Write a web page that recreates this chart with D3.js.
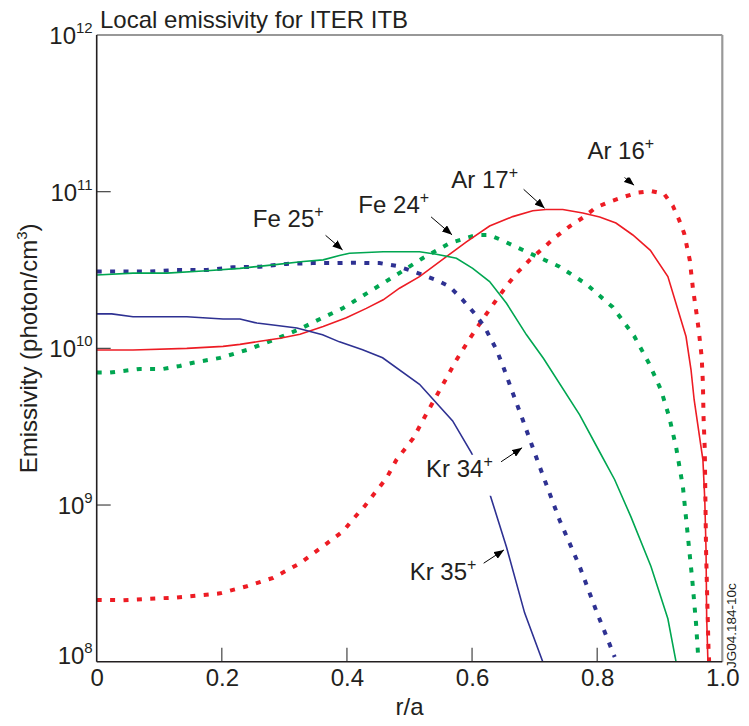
<!DOCTYPE html>
<html>
<head>
<meta charset="utf-8">
<script src="https://cdn.jsdelivr.net/npm/d3@7"></script>
<style>
  body { margin: 0; background: #fff; }
  svg { display: block; font-family: "Liberation Sans", Arial, sans-serif; }
  .label { font-size: 24px; fill: #231f20; }
</style>
</head>
<body>
<svg width="749" height="726"></svg>
<script>
// r/a, emissivity (photon/cm3)
const kr35 = [[0,1.66e10],[0.024,1.66e10],[0.058,1.59e10],[0.144,1.59e10],[0.202,1.54e10],[0.229,1.54e10],[0.256,1.45e10],[0.282,1.41e10],[0.320,1.35e10],[0.361,1.22e10],[0.388,1.10e10],[0.425,9.8e9],[0.457,8.7e9],[0.516,5.9e9],[0.569,3.44e9],[0.599,2.15e9],[0.628,1.19e9],[0.655,5.4e8],[0.684,2.05e8],[0.713,1.0e8]]
const kr34 = [[0,3.09e10],[0.042,3.09e10],[0.085,3.09e10],[0.128,3.16e10],[0.176,3.16e10],[0.218,3.29e10],[0.261,3.32e10],[0.303,3.46e10],[0.345,3.5e10],[0.383,3.5e10],[0.410,3.52e10],[0.452,3.5e10],[0.479,3.36e10],[0.500,3.16e10],[0.521,2.94e10],[0.543,2.73e10],[0.564,2.48e10],[0.585,2.04e10],[0.604,1.67e10],[0.620,1.37e10],[0.639,9.8e9],[0.649,7.8e9],[0.665,5.2e9],[0.681,3.5e9],[0.708,1.76e9],[0.740,8.0e8],[0.772,4.05e8],[0.798,2.14e8],[0.828,1.07e8]]
const fe25 = [[0,2.94e10],[0.058,3.02e10],[0.112,3.02e10],[0.176,3.13e10],[0.229,3.24e10],[0.282,3.41e10],[0.330,3.58e10],[0.362,3.67e10],[0.388,3.91e10],[0.404,4.05e10],[0.458,4.14e10],[0.516,4.14e10],[0.543,3.99e10],[0.575,3.76e10],[0.601,3.24e10],[0.628,2.67e10],[0.655,1.94e10],[0.687,1.22e10],[0.714,8.65e9],[0.772,3.76e9],[0.804,2.18e9],[0.828,1.45e9],[0.854,8.4e8],[0.886,4.05e8],[0.913,1.88e8],[0.926,1.0e8]]
const fe24 = [[0,7.0e9],[0.021,7.0e9],[0.069,7.39e9],[0.106,7.39e9],[0.133,7.72e9],[0.154,8.1e9],[0.197,8.69e9],[0.240,9.77e9],[0.282,1.13e10],[0.325,1.33e10],[0.357,1.54e10],[0.394,1.81e10],[0.436,2.30e10],[0.479,2.94e10],[0.521,3.76e10],[0.564,4.69e10],[0.607,5.29e10],[0.628,5.29e10],[0.649,4.87e10],[0.692,4.05e10],[0.740,3.32e10],[0.782,2.58e10],[0.825,1.83e10],[0.859,1.20e10],[0.883,8.0e9],[0.902,5.43e9],[0.915,3.66e9],[0.926,2.36e9],[0.937,1.31e9],[0.945,6.3e8],[0.952,3.33e8],[0.958,1.76e8],[0.962,1.0e8]]
const ar17 = [[0,9.77e9],[0.058,9.77e9],[0.144,1.0e10],[0.202,1.03e10],[0.229,1.06e10],[0.261,1.11e10],[0.293,1.16e10],[0.325,1.23e10],[0.362,1.38e10],[0.399,1.57e10],[0.431,1.80e10],[0.458,2.04e10],[0.484,2.42e10],[0.516,2.87e10],[0.559,3.85e10],[0.591,4.78e10],[0.628,6.04e10],[0.665,6.93e10],[0.697,7.56e10],[0.718,7.7e10],[0.745,7.7e10],[0.777,7.31e10],[0.804,6.9e10],[0.830,6.31e10],[0.857,5.29e10],[0.885,4.22e10],[0.913,2.87e10],[0.942,1.19e10],[0.950,7.3e9],[0.955,4.7e9],[0.969,1.94e9],[0.972,1.08e9],[0.974,5.2e8],[0.975,1.94e8],[0.977,1.0e8]]
const ar16 = [[0,2.48e8],[0.042,2.47e8],[0.085,2.52e8],[0.128,2.57e8],[0.197,2.73e8],[0.240,3.03e8],[0.282,3.43e8],[0.325,4.25e8],[0.367,5.65e8],[0.394,6.8e8],[0.410,8.15e8],[0.428,9.8e8],[0.447,1.23e9],[0.463,1.48e9],[0.479,1.94e9],[0.506,2.67e9],[0.529,3.95e9],[0.553,5.84e9],[0.575,8.43e9],[0.596,1.15e10],[0.623,1.66e10],[0.639,2.04e10],[0.655,2.5e10],[0.671,3.01e10],[0.692,3.66e10],[0.713,4.34e10],[0.734,5.16e10],[0.756,6.01e10],[0.777,6.82e10],[0.798,7.93e10],[0.821,8.66e10],[0.844,9.31e10],[0.865,9.86e10],[0.886,1.01e11],[0.907,9.67e10],[0.921,8.11e10],[0.931,6.6e10],[0.939,5.43e10],[0.948,3.66e10],[0.953,2.42e10],[0.958,1.76e10],[0.962,1.34e10],[0.967,8.85e9],[0.969,6.0e9],[0.970,3.66e9],[0.972,2.25e9],[0.973,1.08e9],[0.974,5.2e8],[0.976,2.48e8],[0.978,1.19e8],[0.979,1.0e8]]

const xTicks = [0, 0.2, 0.4, 0.6, 0.8, 1.0],
      yExponents = [8, 9, 10, 11, 12]

// label text, superscript, arrow tip on the curve (r, value)
const notes = [
  {text: "Fe 25", sup: "+", at: [0.393, 4.25e10]},
  {text: "Fe 24", sup: "+", at: [0.568, 5.3e10]},
  {text: "Ar 17", sup: "+", at: [0.716, 7.83e10]},
  {text: "Ar 16", sup: "+", at: [0.859, 1.10e11]},
  {text: "Kr 34", sup: "+", at: [0.680, 2.32e9]},
  {text: "Kr 35", sup: "+", at: [0.651, 5.17e8]}
]

const svg = d3.select("svg"),
      margin = {top: 35, right: 26.7, bottom: 64.3, left: 96.7},
      width = +svg.attr("width") - margin.left - margin.right,
      height = +svg.attr("height") - margin.top - margin.bottom,
      g = svg.append("g").attr("transform", "translate(" + margin.left + "," + margin.top + ")")

const x = d3.scaleLinear().domain([0, 1]).range([0, width]),
      y = d3.scaleLog().domain([1e8, 1e12]).range([height, 0])

const red = "#ed1c24", green = "#00a651", blue = "#2e3192"

const series = [
  {id: "ar16", values: ar16, color: red, dotted: true},
  {id: "fe24", values: fe24, color: green, dotted: true},
  {id: "kr34", values: kr34, color: blue, dotted: true},
  {id: "ar17", values: ar17, color: red, dotted: false},
  {id: "fe25", values: fe25, color: green, dotted: false},
  {id: "kr35", values: kr35, color: blue, dotted: false}
]

svg.append("defs").append("clipPath").attr("id", "clip")
  .append("rect").attr("width", width).attr("height", height)

const marker = svg.select("defs").append("marker")
  .attr("id", "arrow")
  .attr("markerUnits", "userSpaceOnUse")
  .attr("markerWidth", 10).attr("markerHeight", 8)
  .attr("refX", 10).attr("refY", 4)
  .attr("orient", "auto")
marker.append("path").attr("d", "M0,0L10,4L0,8Z").attr("fill", "#000")

const line = d3.line()
  .x(d => x(d[0]))
  .y(d => y(d[1]))

// frame: thin top, grey right
g.append("line").attr("x1", 0).attr("x2", width).attr("y1", 0).attr("y2", 0)
  .attr("stroke", "#333").attr("stroke-width", 1.2)
g.append("line").attr("x1", width).attr("x2", width).attr("y1", 0).attr("y2", height)
  .attr("stroke", "#999").attr("stroke-width", 2.2)

// inner tick marks
g.selectAll(".ytick").data(yExponents.filter(e => e > 8 && e < 12)).enter()
  .append("line")
    .attr("x1", 0).attr("x2", 14)
    .attr("y1", d => y(Math.pow(10, d))).attr("y2", d => y(Math.pow(10, d)))
    .attr("stroke", "#444").attr("stroke-width", 1.2)
g.selectAll(".xtick").data(xTicks.filter(t => t > 0 && t < 1)).enter()
  .append("line")
    .attr("x1", d => x(d)).attr("x2", d => x(d))
    .attr("y1", height).attr("y2", height - 14)
    .attr("stroke", "#444").attr("stroke-width", 1.2)

const curves = g.append("g").attr("clip-path", "url(#clip)")

curves.selectAll(".curve")
  .data(series)
  .enter().append("path")
    .attr("class", "curve")
    .attr("d", d => line(d.values))
    .attr("fill", "none")
    .attr("stroke", d => d.color)
    .attr("stroke-width", d => d.dotted ? 4 : 1.6)
    .attr("stroke-dasharray", d => d.dotted ? "5,8.4" : null)

g.append("line").attr("x1", 0).attr("x2", 0).attr("y1", 0).attr("y2", height)
  .attr("stroke", "#231f20").attr("stroke-width", 1.6)
g.append("line").attr("x1", 0).attr("x2", width).attr("y1", height).attr("y2", height)
  .attr("stroke", "#231f20").attr("stroke-width", 1.6)

// x axis labels
g.append("g")
  .attr("class", "axis axis--x")
  .attr("transform", "translate(0," + height + ")")
  .call(d3.axisBottom(x).tickValues(xTicks).tickSize(0).tickPadding(7)
    .tickFormat(d => d === 0 ? "0" : d3.format(".1f")(d)))
  .call(a => a.select(".domain").remove())
  .selectAll("text")
    .attr("font-size", 24).attr("font-family", "Liberation Sans, Arial, sans-serif")
    .attr("fill", "#231f20")

// y axis labels 10^n
const ylab = g.selectAll(".ylab")
  .data(yExponents)
  .enter().append("text")
    .attr("class", "label")
    .attr("x", -4)
    .attr("y", d => y(Math.pow(10, d)) + (d === 8 ? 2 : 9))
    .attr("text-anchor", "end")
ylab.append("tspan").text("10")
ylab.append("tspan").text(d => d).attr("font-size", 15).attr("dy", -11)

// axis titles
g.append("text")
  .attr("class", "label")
  .attr("x", width / 2).attr("y", height + 53)
  .attr("text-anchor", "middle")
  .text("r/a")

const ytitle = svg.append("text")
  .attr("class", "label")
  .attr("transform", "translate(37," + (margin.top + height / 2) + ") rotate(-90)")
  .attr("text-anchor", "middle")
ytitle.append("tspan").text("Emissivity (photon/cm")
ytitle.append("tspan").text("3").attr("font-size", 15).attr("dy", -10)
ytitle.append("tspan").text(")").attr("dy", 10)

svg.append("text")
  .attr("class", "label")
  .attr("x", 100).attr("y", 28)
  .text("Local emissivity for ITER ITB")

svg.append("text")
  .attr("transform", "translate(736,668) rotate(-90)")
  .attr("font-size", 13.5)
  .attr("fill", "#231f20")
  .text("JG04.184-10c")

// annotations: offsets of arrow tail and label from the arrow tip
const placement = {
  "Fe 25": {ax: -21, ay: -18, lx: -89.7, ly: -23},
  "Fe 24": {ax: -21, ay: -18, lx: -93.7, ly: -21.7},
  "Ar 17": {ax: -21, ay: -19, lx: -93.3, ly: -20},
  "Ar 16": {ax: -22, ay: -18, lx: -46.7, ly: -26.7},
  "Kr 34": {ax: -21, ay: 14, lx: -96, ly: 29},
  "Kr 35": {ax: -20.3, ay: 13.3, lx: -94.3, ly: 30}
}

const ann = g.selectAll(".note")
  .data(notes)
  .enter().append("g")
    .attr("class", "note")
    .attr("transform", d => "translate(" + x(d.at[0]) + "," + y(d.at[1]) + ")")

ann.append("line")
  .attr("x1", d => placement[d.text].ax)
  .attr("y1", d => placement[d.text].ay)
  .attr("x2", 0).attr("y2", 0)
  .attr("stroke", "#000").attr("stroke-width", 1)
  .attr("marker-end", "url(#arrow)")

const noteText = ann.append("text")
  .attr("class", "label")
  .attr("x", d => placement[d.text].lx)
  .attr("y", d => placement[d.text].ly)
noteText.append("tspan").text(d => d.text)
noteText.append("tspan").text(d => d.sup).attr("font-size", 16).attr("dy", -10)

// white box under the labels so the curves break behind them
noteText.each(function () {
  const b = this.getBBox()
  d3.select(this.parentNode).insert("rect", "text")
    .attr("x", b.x - 2).attr("y", b.y + 2)
    .attr("width", b.width + 4).attr("height", b.height + 12)
    .attr("fill", "#fff")
})
</script>
</body>
</html>
